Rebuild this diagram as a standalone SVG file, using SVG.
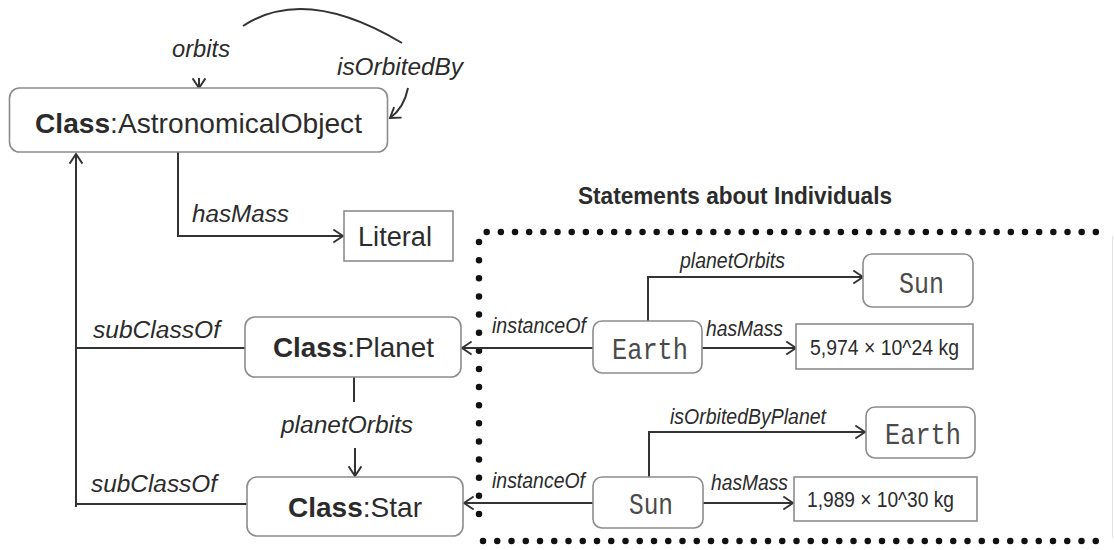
<svg xmlns="http://www.w3.org/2000/svg" width="1114" height="550" viewBox="0 0 1114 550">
<style>
.box{fill:#fff;stroke:#8c8c8c;stroke-width:1.6}
.t{font-family:"Liberation Sans",Arial,sans-serif;fill:#2b2b2b}
.b{font-weight:bold}
.lbl{font-family:"Liberation Sans",Arial,sans-serif;font-style:italic;fill:#2b2b2b}
.mono{font-family:"Liberation Mono","Courier New",monospace;fill:#4a4a4a}
.ln{fill:none;stroke:#333;stroke-width:2}
.dots{fill:none;stroke:#111;stroke-width:6.5;stroke-linecap:round}
</style>
<defs>
<marker id="arr" markerUnits="userSpaceOnUse" markerWidth="13" markerHeight="15" viewBox="0 0 11 14" refX="10" refY="7" orient="auto">
<path d="M1,1 L10,7 L1,13" fill="none" stroke="#333" stroke-width="1.8"/>
</marker>
</defs>
<rect width="1114" height="550" fill="#fff"/>

<g id="individuals-frame">
<text class="t b" x="578" y="204" font-size="24" textLength="314" lengthAdjust="spacingAndGlyphs">Statements about Individuals</text>
<line class="dots" x1="486.7" y1="232" x2="1110" y2="232" stroke-dasharray="0 14.166"/>
<line class="dots" x1="479" y1="242" x2="479" y2="532" stroke-dasharray="0 18.125"/>
<line class="dots" x1="483" y1="541" x2="1110" y2="541" stroke-dasharray="0 14.25"/>
<line x1="1112.5" y1="236" x2="1112.5" y2="538" stroke="#e2e2e2" stroke-width="1"/>
</g>

<g id="connectors">
<path class="ln" d="M243,26 Q305,-15 402,43"/>
<path class="ln" d="M408,88 Q404,108 390,118" marker-end="url(#arr)"/>
<path class="ln" d="M199,78 L199,88" marker-end="url(#arr)"/>
<path class="ln" d="M76,507 L76,154" marker-end="url(#arr)"/>
<path class="ln" d="M76,348 L245,348"/>
<path class="ln" d="M76,504 L247,504"/>
<path class="ln" d="M178,152 L178,236 L343,236" marker-end="url(#arr)"/>
<path class="ln" d="M354,377 L354,402"/>
<path class="ln" d="M355,448 L355,476" marker-end="url(#arr)"/>
<path class="ln" d="M593,348 L462,348" marker-end="url(#arr)"/>
<path class="ln" d="M593,503 L464,503" marker-end="url(#arr)"/>
<path class="ln" d="M648,321 L648,277 L863,277" marker-end="url(#arr)"/>
<path class="ln" d="M702,348 L796,348" marker-end="url(#arr)"/>
<path class="ln" d="M649,477 L649,432 L865,432" marker-end="url(#arr)"/>
<path class="ln" d="M703,503 L793,503" marker-end="url(#arr)"/>
<text class="lbl" x="172" y="57" font-size="23" textLength="58" lengthAdjust="spacingAndGlyphs">orbits</text>
<text class="lbl" x="337" y="75" font-size="23" textLength="126" lengthAdjust="spacingAndGlyphs">isOrbitedBy</text>
<text class="lbl" x="192" y="222" font-size="23" textLength="97" lengthAdjust="spacingAndGlyphs">hasMass</text>
<text class="lbl" x="93" y="338" font-size="23" textLength="127" lengthAdjust="spacingAndGlyphs">subClassOf</text>
<text class="lbl" x="91" y="492" font-size="23" textLength="126" lengthAdjust="spacingAndGlyphs">subClassOf</text>
<text class="lbl" x="281" y="433" font-size="23" textLength="132" lengthAdjust="spacingAndGlyphs">planetOrbits</text>
<text class="lbl" x="492" y="333" font-size="22" textLength="94" lengthAdjust="spacingAndGlyphs">instanceOf</text>
<text class="lbl" x="492" y="488" font-size="22" textLength="93" lengthAdjust="spacingAndGlyphs">instanceOf</text>
<text class="lbl" x="680" y="268" font-size="22" textLength="105" lengthAdjust="spacingAndGlyphs">planetOrbits</text>
<text class="lbl" x="706" y="336" font-size="22" textLength="77" lengthAdjust="spacingAndGlyphs">hasMass</text>
<text class="lbl" x="670" y="424" font-size="22" textLength="156" lengthAdjust="spacingAndGlyphs">isOrbitedByPlanet</text>
<text class="lbl" x="711" y="490" font-size="22" textLength="77" lengthAdjust="spacingAndGlyphs">hasMass</text>
</g>

<g id="node-astronomicalobject">
<rect class="box" x="9.5" y="88" width="378" height="64" rx="10"/>
<text class="t" x="35" y="133" font-size="28" textLength="327" lengthAdjust="spacingAndGlyphs"><tspan class="b">Class</tspan>:AstronomicalObject</text>
</g>
<g id="node-literal">
<rect class="box" x="344" y="211" width="109" height="50"/>
<text class="t" x="358" y="246" font-size="27" textLength="74" lengthAdjust="spacingAndGlyphs">Literal</text>
</g>
<g id="node-planet">
<rect class="box" x="245" y="317" width="216" height="60" rx="10"/>
<text class="t" x="273" y="357" font-size="28" textLength="161" lengthAdjust="spacingAndGlyphs"><tspan class="b">Class</tspan>:Planet</text>
</g>
<g id="node-star">
<rect class="box" x="247" y="477" width="216" height="59" rx="10"/>
<text class="t" x="288" y="517" font-size="28" textLength="134" lengthAdjust="spacingAndGlyphs"><tspan class="b">Class</tspan>:Star</text>
</g>
<g id="node-earth">
<rect class="box" x="593" y="321" width="109" height="52" rx="9"/>
<text class="mono" x="612" y="359" font-size="29" textLength="76" lengthAdjust="spacingAndGlyphs">Earth</text>
</g>
<g id="node-sun-target">
<rect class="box" x="863" y="254" width="110" height="53" rx="9"/>
<text class="mono" x="899" y="293" font-size="29" textLength="45" lengthAdjust="spacingAndGlyphs">Sun</text>
</g>
<g id="node-earth-mass">
<rect class="box" x="796" y="324" width="177" height="45"/>
<text class="t" x="810" y="355" font-size="22" textLength="149" lengthAdjust="spacingAndGlyphs">5,974 × 10^24 kg</text>
</g>
<g id="node-sun">
<rect class="box" x="593" y="477" width="110" height="51" rx="9"/>
<text class="mono" x="629" y="514" font-size="29" textLength="44" lengthAdjust="spacingAndGlyphs">Sun</text>
</g>
<g id="node-earth-target">
<rect class="box" x="866" y="407" width="109" height="51" rx="9"/>
<text class="mono" x="885" y="444" font-size="29" textLength="76" lengthAdjust="spacingAndGlyphs">Earth</text>
</g>
<g id="node-sun-mass">
<rect class="box" x="794" y="477" width="183" height="44"/>
<text class="t" x="807" y="507" font-size="22" textLength="147" lengthAdjust="spacingAndGlyphs">1,989 × 10^30 kg</text>
</g>
</svg>
